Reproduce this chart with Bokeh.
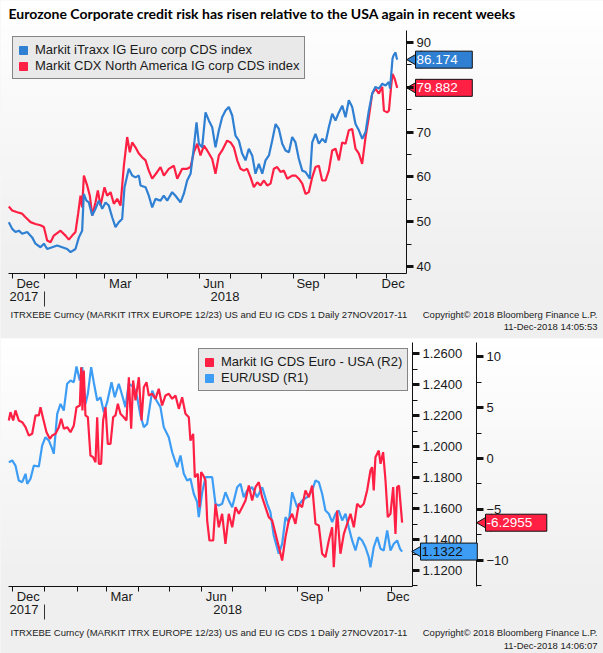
import numpy as np
from bokeh.plotting import figure
from bokeh.models import (Range1d, LinearAxis, FixedTicker, Legend, LegendItem, Label,
                          PrintfTickFormatter, Grid)
from bokeh.layouts import column
from bokeh.embed import file_html
from bokeh.resources import INLINE

# ---------------- data (x = days since 27-Nov-2017) ----------------
TITLE = "Eurozone Corporate credit risk has risen relative to the USA again in recent weeks"
MONTH_STARTS = [4, 35, 66, 94, 125, 155, 186, 216, 247, 278, 308, 339, 369]
QUARTER_STARTS = [35, 125, 216, 308]
MONTH_LABEL_POS = [19, 109, 200, 292, 375]
MONTH_LABELS = ["Dec", "Mar", "Jun", "Sep", "Dec"]
YEAR_POS = [15, 211]
YEAR_LABELS = ["2017", "2018"]
YEAR_SEP = [35]

itraxx_day = [0.3, 3.6, 6.8, 10.1, 13.3, 18.2, 23.1, 26.3, 31.2, 34.5,
              37.7, 42.6, 47.5, 52.4, 57.2, 60.5, 65.3, 68.6, 71.8, 73.4,
              76.0, 78.3, 81.6, 84.8, 88.1, 91.4, 94.6, 97.8, 101.1, 104.3,
              107.6, 110.8, 113.1, 117.3, 120.6, 123.8, 127.1, 128.7, 133.6, 136.8,
              140.1, 143.3, 148.2, 151.4, 154.7, 159.6, 162.8, 167.7, 170.9, 174.2,
              177.5, 180.7, 183.3, 185.6, 188.8, 192.1, 195.3, 198.6, 201.8, 205.1,
              208.3, 211.6, 214.8, 218.1, 221.3, 224.6, 227.8, 231.1, 234.3, 237.6,
              240.8, 244.1, 247.4, 250.6, 253.9, 257.1, 260.4, 263.6, 266.9, 270.1,
              273.4, 276.6, 279.8, 283.1, 286.4, 289.6, 293.8, 296.1, 299.3, 302.6,
              305.9, 309.1, 312.3, 315.6, 318.8, 322.1, 325.4, 328.6, 331.8, 335.1,
              338.3, 341.6, 344.9, 348.1, 351.3, 354.6, 357.8, 361.1, 364.4, 367.6, 370.8,
              372.0, 374.4, 375.4, 377.3, 378.3, 379.0]
itraxx = [49.9, 48.4, 47.7, 48.0, 47.3, 47.7, 46.5, 45.1, 44.3, 45.1,
          43.9, 44.3, 44.7, 44.3, 43.9, 43.2, 43.9, 46.5, 48.0, 56.2,
          54.7, 54.3, 51.4, 52.9, 54.7, 52.9, 54.3, 53.6, 51.0, 48.8,
          49.9, 50.6, 57.7, 61.8, 60.3, 59.9, 60.3, 58.1, 57.7, 55.8,
          53.2, 55.1, 54.7, 55.8, 54.7, 56.6, 55.8, 54.3, 56.2, 59.2,
          60.7, 66.6, 72.2, 67.4, 66.6, 74.4, 72.6, 71.1, 66.6, 70.4,
          73.3, 74.8, 75.6, 73.7, 69.2, 68.1, 65.2, 63.7, 66.3, 64.8,
          60.7, 62.9, 60.7, 63.7, 64.8, 68.1, 71.8, 70.7, 67.4, 65.9,
          65.5, 68.9, 67.7, 64.0, 61.4, 61.1, 59.6, 67.7, 69.6, 67.4,
          68.5, 67.7, 71.1, 74.1, 72.6, 74.4, 75.9, 73.3, 77.1, 75.6,
          71.8, 70.4, 68.5, 70.0, 74.8, 78.6, 80.1, 79.7, 80.8, 80.4, 81.2,
          79.7, 86.4, 87.1, 87.8, 86.7, 86.174]

cdx_day = [0.3, 3.6, 8.5, 13.3, 16.6, 21.5, 26.3, 31.2, 34.5, 37.7,
           41.0, 44.2, 50.7, 55.6, 58.8, 62.1, 65.3, 67.9, 70.2, 71.8,
           73.5, 76.7, 79.3, 81.6, 84.8, 87.1, 89.7, 93.6, 96.2, 99.5,
           102.7, 106.0, 109.2, 112.5, 115.7, 118.3, 120.6, 123.8, 127.1, 130.3,
           133.6, 136.8, 140.1, 145.0, 148.2, 151.5, 156.3, 161.2, 164.5, 169.3,
           174.2, 177.5, 180.7, 184.0, 187.2, 190.5, 193.7, 198.6, 201.8, 205.1,
           208.3, 213.2, 216.5, 219.7, 223.0, 226.2, 229.5, 232.7, 236.0, 239.2,
           242.5, 245.7, 249.0, 252.2, 255.5, 258.7, 262.0, 265.2, 268.5, 271.7,
           276.6, 279.8, 283.1, 286.4, 289.6, 292.8, 296.1, 299.3, 302.6, 305.8,
           309.1, 312.3, 315.6, 318.8, 322.1, 325.3, 328.6, 331.8, 335.1, 338.3,
           341.6, 344.8, 348.1, 351.3, 354.6, 357.8, 361.1, 364.4, 366.0, 369.2, 370.9,
           373.0, 374.4, 376.5, 379.0]
cdx = [53.4, 52.5, 52.1, 51.8, 51.0, 49.9, 49.5, 49.2, 48.8, 45.8,
       45.4, 46.9, 48.0, 46.9, 46.0, 46.9, 47.7, 51.8, 55.8, 53.2,
       60.3, 58.1, 55.8, 51.4, 54.3, 57.0, 53.6, 57.7, 55.8, 56.6,
       54.0, 55.1, 53.6, 62.5, 68.9, 65.5, 67.7, 66.6, 65.2, 64.4,
       63.7, 61.4, 59.6, 61.1, 62.2, 60.3, 61.8, 62.5, 59.6, 61.8,
       61.8, 62.2, 65.5, 67.4, 64.8, 67.0, 65.9, 64.0, 60.7, 64.8,
       65.9, 68.1, 67.7, 66.6, 63.7, 61.8, 61.4, 61.8, 59.9, 57.7,
       58.8, 58.1, 59.2, 58.1, 58.5, 61.8, 62.2, 61.1, 61.4, 59.6,
       60.3, 60.3, 59.6, 58.5, 56.2, 56.6, 59.9, 62.2, 62.5, 59.2,
       59.2, 61.4, 65.9, 66.3, 63.7, 67.7, 67.4, 70.4, 70.7, 66.3,
       65.2, 62.9, 68.9, 73.3, 78.6, 79.7, 78.6, 80.1, 74.8, 74.4, 74.8,
       80.1, 83.0, 81.9, 79.882]

eurusd_day = [0.3, 3.6, 6.7, 9.9, 13.2, 16.4, 18.0, 21.2, 24.4, 29.2,
              32.4, 35.6, 38.8, 42.1, 43.6, 46.9, 50.1, 53.2, 56.5, 59.7,
              62.9, 65.5, 68.6, 71.0, 74.1, 76.4, 79.6, 82.1, 85.4, 88.6,
              91.8, 95.0, 99.2, 102.3, 106.2, 109.5, 112.6, 115.8, 120.6, 123.9,
              127.1, 130.3, 133.5, 138.4, 141.5, 146.3, 149.5, 154.3, 157.6, 162.4,
              165.6, 168.8, 172.0, 175.2, 178.4, 181.7, 183.2, 186.5,
              189.7, 196.1, 199.3, 202.5, 205.7, 208.9, 212.1, 215.4, 220.2, 223.4,
              226.5, 229.8, 234.6, 239.4, 244.3, 249.1, 252.2, 255.4, 260.2, 263.5,
              266.7, 269.9, 273.1, 277.9, 282.8, 287.6, 292.4, 295.6, 298.8, 302.0,
              305.2, 308.4, 311.7, 314.8, 318.0, 321.3, 324.5, 327.6, 330.9, 334.1,
              337.3, 340.5, 343.7, 346.9, 348.5, 351.7, 355.0, 358.2, 361.3, 364.6,
              367.8, 371.0, 374.2, 377.0, 379.0]
eurusd = [1.1899, 1.1910, 1.1877, 1.1781, 1.1770, 1.1824, 1.1759, 1.1792, 1.1877, 1.1871,
          1.2006, 1.2060, 1.2039, 1.1985, 1.1953, 1.2211, 1.2275, 1.2232, 1.2405, 1.2426,
          1.2415, 1.2516, 1.2426, 1.2512, 1.2275, 1.2340, 1.2512, 1.2415, 1.2297, 1.2318,
          1.2221, 1.2286, 1.2415, 1.2318, 1.2405, 1.2329, 1.2254, 1.2405, 1.2383, 1.2318,
          1.2200, 1.2125, 1.2146, 1.2361, 1.2308, 1.2254, 1.2125, 1.2060, 1.1963, 1.1866,
          1.1942, 1.1824, 1.1781, 1.1792, 1.1695, 1.1641, 1.1544, 1.1705,
          1.1802, 1.1802, 1.1630, 1.1619, 1.1630, 1.1705, 1.1652, 1.1608, 1.1737, 1.1759,
          1.1673, 1.1716, 1.1737, 1.1673, 1.1737, 1.1630, 1.1576, 1.1426, 1.1308, 1.1372,
          1.1544, 1.1512, 1.1705, 1.1608, 1.1652, 1.1673, 1.1716, 1.1781, 1.1770, 1.1695,
          1.1587, 1.1566, 1.1512, 1.1566, 1.1587, 1.1523, 1.1566, 1.1479, 1.1394, 1.1329,
          1.1415, 1.1394, 1.1350, 1.1286, 1.1221, 1.1350, 1.1415, 1.1340, 1.1329, 1.1458,
          1.1329, 1.1372, 1.1394, 1.1340, 1.1322]

spread_day = [0.3, 1.9, 4.5, 6.7, 9.9, 13.2, 16.4, 19.6, 22.8, 26.0,
              29.2, 30.8, 33.4, 36.6, 39.8, 42.0, 45.3, 48.5, 50.7, 53.3,
              56.5, 59.7, 62.9, 65.5, 68.7, 70.0, 71.2, 72.5, 74.1, 76.4,
              78.9, 81.5, 83.8, 85.4, 87.0, 89.2, 91.1, 93.4, 95.6, 98.2,
              100.8, 103.0, 105.3, 107.8, 111.0, 113.6, 115.9, 118.1, 120.0, 122.3,
              125.5, 128.1, 130.3, 132.9, 135.1, 138.3, 141.5, 144.7, 147.9, 151.2,
              154.4, 157.6, 160.8, 164.0, 167.2, 170.4, 173.6, 175.2, 177.8, 179.4,
              182.3, 183.9, 185.5, 187.4, 189.7, 191.3, 193.5,
              197.1, 199.3, 202.5, 205.7, 208.9, 212.1, 215.4, 218.6, 221.8, 225.0,
              228.2, 231.4, 234.6, 237.8, 241.0, 244.2, 247.4, 250.6, 253.9, 257.1,
              260.3, 263.5, 266.7, 269.9, 273.1, 276.3, 279.5, 282.7, 285.9, 289.2,
              292.4, 295.6, 298.8, 302.0, 305.2, 308.4, 311.6, 313.2, 316.4, 319.6,
              322.9, 326.1, 329.3, 332.5, 335.7, 338.9, 342.1, 345.3, 348.5, 350.1,
              351.7, 353.3, 356.5, 358.2, 360.7, 363.0, 365.2, 367.8, 370.4, 372.6,
              374.2, 376.0, 379.0]
spread = [3.73, 4.54, 3.73, 4.71, 3.73, 3.56, 3.07, 2.25, 2.42, 4.22,
          4.22, 5.03, 3.89, 2.58, 1.93, 2.25, 2.42, 3.07, 3.89, 2.91,
          3.07, 2.58, 3.24, 5.03, 5.20, 8.95, 4.71, 8.63, 4.22, 4.05,
          0.29, 0.13, -0.36, 4.05, -0.52, -0.52, 3.73, 5.03, 1.44, 1.44,
          4.05, 4.22, 5.36, 4.38, 4.05, 3.73, 7.97, 2.91, 7.65, 5.69,
          7.97, 3.73, 6.99, 7.48, 6.18, 6.34, 5.85, 6.83, 5.20, 6.18,
          6.34, 5.85, 6.18, 4.87, 6.01, 4.38, 4.05, 1.76, 2.42, -1.83,
          -1.50, -4.77, -1.34, -1.63, -2.16, -6.08, -8.04,
          -8.04, -4.44, -6.74, -5.42, -8.36, -5.42, -6.74, -4.77, -5.42, -4.77,
          -4.12, -2.65, -4.12, -2.81, -2.32, -3.79, -4.77, -5.75, -6.08, -7.39,
          -8.69, -10.00, -7.71, -6.08, -5.42, -6.40, -4.44, -4.77, -3.14, -3.79,
          -2.65, -6.40, -6.57, -9.34, -9.67, -8.04, -6.74, -10.66, -5.10, -9.34,
          -7.39, -6.40, -5.42, -6.74, -4.44, -4.77, -4.44, -3.14, -1.18, -0.85,
          -3.14, 0.13, 0.78, -0.52, 0.62, -2.16, -5.75, -5.42, -2.81, -7.39,
          -2.81, -2.65, -6.2955]

TOP_TICKS = [40, 50, 60, 70, 80, 90]
TOP_MINOR = [45, 55, 65, 75, 85]
R1_TICKS = [1.12, 1.14, 1.16, 1.18, 1.20, 1.22, 1.24, 1.26]
R1_MINOR = [1.11, 1.13, 1.15, 1.17, 1.19, 1.21, 1.23, 1.25]
R2_TICKS = [-10, -5, 0, 5, 10]
R2_MINOR = [-12.5, -7.5, -2.5, 2.5, 7.5]

FOOT1 = "ITRXEBE Curncy (MARKIT ITRX EUROPE 12/23) US and EU IG CDS 1  Daily 27NOV2017-11"
COPY = "Copyright\u00a9 2018 Bloomberg Finance L.P."
STAMP1 = "11-Dec-2018 14:05:53"
STAMP2 = "11-Dec-2018 14:06:07"

# ---------------- layout geometry (frame = whole canvas) ----------------
W = 603
H1, H2 = 338, 315
TOP_X = (-7.8, 580.1)          # canvas x extent, days
TOP_Y = (23.93, 99.375)        # canvas y extent
TOP_PX = (0, 388)              # plot area x
TOP_PY = (38.44, 92.68)        # plot area y
TOP_YEAR_AT = 34.42
BOT_X = (-7.7, 572.9)
BOT_Y = (1.06645, 1.26968)
BOT_R2 = (-19.118, 11.765)
BOT_PX = (0, 389)
BOT_PY = (1.1097, 1.2671)
BOT_PR2 = (-12.55, 11.37)
BOT_YEAR_AT = 1.09806
R2_AT = 450.6

FONT = "Liberation Sans"
TXT = "#1a1a1a"
BLUE1 = "#2f7fd3"
RED = "#ff2044"
BLUE2 = "#3d9df5"
GRID = "#c3c7cf"
PADR = "\u2002\u2002"
HAS_CB = "cross_bounds" in Grid.properties()


def gradient(p, xr, yr, plot_frac):
    n = 64
    img = np.empty((n, 1), dtype=np.uint32)
    v = img.view(dtype=np.uint8).reshape((n, 1, 4))
    for i in range(n):
        f = 1.0 - (i + 0.5) / n
        c = int(round(255 - 16 * min(1.0, f / plot_frac)))
        v[i, 0, :] = (c, c, c, 255)
    p.image_rgba(image=[img], x=xr[0], y=yr[0], dw=xr[1] - xr[0], dh=yr[1] - yr[0])


def grids(p, px, py, yticks):
    p.xgrid.ticker = FixedTicker(ticks=QUARTER_STARTS)
    if HAS_CB:
        p.xgrid[0].cross_bounds = py
        p.ygrid[0].cross_bounds = px
        for g in (p.xgrid, p.ygrid):
            g.grid_line_color = GRID
            g.grid_line_dash = "2 2"
            g.grid_line_width = 1
    else:
        p.xgrid.visible = False
        p.ygrid.visible = False
        p.segment(x0=QUARTER_STARTS, x1=QUARTER_STARTS, y0=[py[0]] * 4, y1=[py[1]] * 4,
                  line_color=GRID, line_dash="2 2", line_width=1)
        n = len(yticks)
        p.segment(x0=[px[0]] * n, x1=[px[1]] * n, y0=yticks, y1=yticks,
                  line_color=GRID, line_dash="2 2", line_width=1)


def style_xaxes(p, px, py0, year_at):
    ax = p.xaxis[0]
    ax.fixed_location = py0
    ax.bounds = px
    ax.ticker = FixedTicker(ticks=MONTH_LABEL_POS, minor_ticks=MONTH_STARTS)
    ax.major_label_overrides = dict(zip(MONTH_LABEL_POS, MONTH_LABELS))
    ax.major_tick_line_color = None
    ax.major_tick_out = 0
    ax.major_tick_in = 0
    ax.minor_tick_out = 5
    ax.minor_tick_in = 0
    ax.minor_tick_line_color = "#111111"
    ax.axis_line_color = "#111111"
    ax.major_label_standoff = -2
    ax.major_label_text_font = FONT
    ax.major_label_text_font_size = "13px"
    ax.major_label_text_color = TXT
    yr = LinearAxis(ticker=FixedTicker(ticks=YEAR_POS, minor_ticks=YEAR_SEP),
                    fixed_location=year_at)
    yr.major_label_overrides = dict(zip(YEAR_POS, YEAR_LABELS))
    yr.axis_line_color = None
    yr.major_tick_line_color = None
    yr.major_tick_out = 0
    yr.major_tick_in = 0
    yr.minor_tick_out = 15
    yr.minor_tick_in = 0
    yr.minor_tick_line_color = "#333333"
    yr.major_label_standoff = -15
    yr.major_label_text_font = FONT
    yr.major_label_text_font_size = "13px"
    yr.major_label_text_color = TXT
    p.add_layout(yr, "below")


def style_yaxis(ax, ticks, minor, at, bounds):
    ax.fixed_location = at
    ax.bounds = bounds
    ax.ticker = FixedTicker(ticks=ticks, minor_ticks=minor)
    ax.axis_line_color = "#111111"
    ax.major_tick_line_color = "#111111"
    ax.major_tick_line_width = 3
    ax.major_tick_out = 7
    ax.major_tick_in = 0
    ax.minor_tick_line_color = "#111111"
    ax.minor_tick_out = 5
    ax.minor_tick_in = 0
    ax.major_label_standoff = 3
    ax.major_label_text_font = FONT
    ax.major_label_text_font_size = "13px"
    ax.major_label_text_color = TXT


def add_tag(p, xd, xs, y, text, fill, tcolor, rng="default"):
    p.scatter([xd], [y], marker="triangle", size=17, angle=np.pi / 2,
              fill_color=fill, line_color="#111111", line_width=1, y_range_name=rng)
    p.add_layout(Label(x=xs, y=y, x_units="screen", y_units="data", y_range_name=rng,
                       text=text + PADR, text_font=FONT, text_font_size="13.5px",
                       text_color=tcolor, text_baseline="middle", text_align="left",
                       background_fill_color=fill, background_fill_alpha=1.0,
                       border_line_color="#111111", border_line_width=1, padding=1))


def add_footer(p, y1, y2, stamp):
    common = dict(x_units="screen", y_units="screen", text_font=FONT,
                  text_font_size="9.5px", text_color="#222222", text_baseline="middle")
    p.add_layout(Label(x=10, y=y1, text=FOOT1, text_align="left", **common))
    p.add_layout(Label(x=597, y=y1, text=COPY, text_align="right", **common))
    p.add_layout(Label(x=597, y=y2, text=stamp, text_align="right", **common))


def add_legend(p, entries, loc):
    items = []
    for lab, col in entries:
        nan = np.array([np.nan])
        r = p.quad(left=nan, right=nan, top=nan, bottom=nan, fill_color=col, line_color=col)
        items.append(LegendItem(label=lab, renderers=[r]))
    lg = Legend(items=items, location=loc)
    lg.background_fill_color = "#e9e9e9"
    lg.background_fill_alpha = 1.0
    lg.border_line_color = "#222222"
    lg.border_line_width = 1
    lg.label_text_font = FONT
    lg.label_text_font_size = "13px"
    lg.label_text_color = TXT
    lg.glyph_width = 10
    lg.glyph_height = 10
    lg.label_height = 13
    lg.label_standoff = 7
    lg.spacing = 1
    lg.padding = 5
    lg.margin = 0
    p.add_layout(lg)


# ---------------- top chart ----------------
p1 = figure(width=W, height=H1, x_range=Range1d(*TOP_X), y_range=Range1d(*TOP_Y),
            output_backend="svg", toolbar_location=None, y_axis_location="right",
            min_border=0, title=None)
p1.background_fill_color = "#efefef"
p1.border_fill_color = "#efefef"
p1.outline_line_color = None
gradient(p1, TOP_X, TOP_Y, 0.8)
grids(p1, TOP_PX, TOP_PY, TOP_TICKS)
style_xaxes(p1, TOP_PX, TOP_PY[0], TOP_YEAR_AT)
style_yaxis(p1.yaxis[0], TOP_TICKS, TOP_MINOR, TOP_PX[1], TOP_PY)
p1.line(cdx_day, cdx, line_color=RED, line_width=2.2)
p1.line(itraxx_day, itraxx, line_color=BLUE1, line_width=2.2)
add_legend(p1, [("Markit iTraxx IG Euro corp CDS index", BLUE1),
                ("Markit CDX North America IG corp CDS index", RED)], (12, 259))
add_tag(p1, 397.8, 415, itraxx[-1], "%.3f" % itraxx[-1], BLUE1, "white")
add_tag(p1, 397.8, 415, cdx[-1], "%.3f" % cdx[-1], RED, "white")
add_footer(p1, 24, 12, STAMP1)
p1.add_layout(Label(x=8, y=325, x_units="screen", y_units="screen", text=TITLE,
                    text_font="Lato", text_font_size="14px", text_font_style="bold",
                    text_color="#000000", text_baseline="middle", text_align="left"))

# ---------------- bottom chart ----------------
p2 = figure(width=W, height=H2, x_range=Range1d(*BOT_X), y_range=Range1d(*BOT_Y),
            output_backend="svg", toolbar_location=None, y_axis_location="right",
            min_border=0, title=None)
p2.extra_y_ranges = {"r2": Range1d(*BOT_R2)}
p2.background_fill_color = "#efefef"
p2.border_fill_color = "#efefef"
p2.outline_line_color = None
gradient(p2, BOT_X, BOT_Y, 0.8)
grids(p2, BOT_PX, BOT_PY, R1_TICKS)
style_xaxes(p2, BOT_PX, BOT_PY[0], BOT_YEAR_AT)
r1 = p2.yaxis[0]
style_yaxis(r1, R1_TICKS, R1_MINOR, BOT_PX[1], BOT_PY)
r1.formatter = PrintfTickFormatter(format="%.4f")
r2 = LinearAxis(y_range_name="r2")
style_yaxis(r2, R2_TICKS, R2_MINOR, R2_AT, BOT_PR2)
p2.add_layout(r2, "right")
p2.line(eurusd_day, eurusd, line_color=BLUE2, line_width=2.2)
p2.line(spread_day, spread, line_color=RED, line_width=2.2, y_range_name="r2")
add_legend(p2, [("Markit IG CDS Euro - USA (R2)", RED), ("EUR/USD (R1)", BLUE2)], (198, 262))
add_tag(p2, 397.7, 420, eurusd[-1], "%.4f" % eurusd[-1], BLUE2, "#111111")
add_tag(p2, 460.2, 485, spread[-1], "%.4f" % spread[-1], RED, "white", "r2")
add_footer(p2, 21, 8, STAMP2)

layout = column(p1, p2)
open("out.html", "w").write(file_html(layout, INLINE))
